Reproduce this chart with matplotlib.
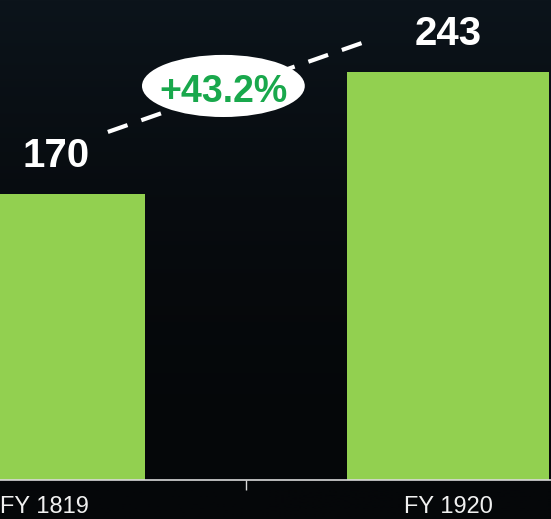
import numpy as np
import matplotlib
matplotlib.use("Agg")
import matplotlib.pyplot as plt
from matplotlib.patches import Ellipse
from matplotlib.colors import LinearSegmentedColormap

plt.rcParams['font.family'] = ['Liberation Sans', 'DejaVu Sans']

# data
categories = ["FY 1819", "FY 1920"]
values = [170, 243]
growth_label = "+43.2%"

bar_color = '#92d050'
bg_top = '#0c141b'
bg_bottom = '#050709'

fig = plt.figure(figsize=(5.51, 5.19), dpi=100)
fig.patch.set_facecolor(bg_bottom)

# dark background with a light gradient towards the top
bg = fig.add_axes([0, 0, 1, 1], zorder=-1)
grad = np.linspace(1, 0, 256).reshape(-1, 1) ** 2
cmap = LinearSegmentedColormap.from_list('bg', [bg_bottom, bg_top])
bg.imshow(grad, aspect='auto', cmap=cmap, extent=[0, 1, 0, 1])
bg.axis('off')

ax = fig.add_axes([0, 39.5/519, 1, 479.5/519])
ax.patch.set_alpha(0)
x = np.arange(len(categories))
ax.bar(x, values, width=0.5, color=bar_color, zorder=2)

ax.set_xlim(-0.109, 1.255)
ax.set_ylim(0, 285.6)

# value labels above the bars
offsets = [0.03, 0.0]
for i, v in enumerate(values):
    ax.text(x[i] + offsets[i], v + 16, str(v), ha='center', va='baseline',
            color='white', fontsize=29, fontweight='bold')

# dashed growth line with the ellipse label
ax.plot([0.158, 0.787], [207, 260], color='white', lw=3, ls=(0, (5, 3.5)),
        zorder=3, solid_capstyle='butt')
ell = Ellipse((0.444, 234.4), 0.403, 37, facecolor='white', edgecolor='none', zorder=4)
ax.add_patch(ell)
ax.text(0.444, 231, growth_label, ha='center', va='center', color='#19a84c',
        fontsize=27, fontweight='bold', zorder=5)

# axis styling
for s in ['top', 'right', 'left']:
    ax.spines[s].set_visible(False)
ax.spines['bottom'].set_color('#d9d9d9')
ax.spines['bottom'].set_linewidth(1.2)
ax.set_yticks([])
ax.set_xticks(x)
ax.set_xticklabels(categories, fontsize=17, color='#f0f0f0')
ax.tick_params(axis='x', which='major', length=0, pad=12)
ax.set_xticks([0.5], minor=True)
ax.tick_params(axis='x', which='minor', length=7, width=1, color='#d9d9d9')

fig.savefig('out.png', dpi=100, facecolor=fig.get_facecolor())
